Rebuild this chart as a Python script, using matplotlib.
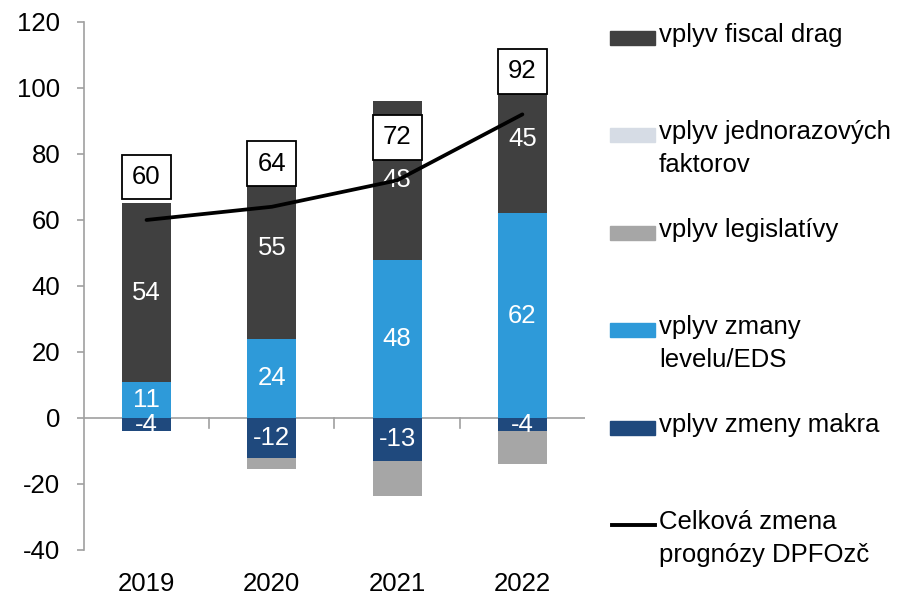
import matplotlib
matplotlib.use("Agg")
import matplotlib.pyplot as plt
from matplotlib.patches import Rectangle
from matplotlib.lines import Line2D
import numpy as np

plt.rcParams['font.family'] = ['Liberation Sans', 'DejaVu Sans']
plt.rcParams['axes.unicode_minus'] = False

#==================================================================================================================
# data

years = ["2019", "2020", "2021", "2022"]
fiscal_drag = [54, 55, 48, 45]
jednorazove = [0, 0, 0, 0]
legislativa = [0, -3.4, -10.7, -10]
level_eds = [11, 24, 48, 62]
makro = [-4, -12, -13, -4]
celkova_zmena = [60, 64, 72, 92]

labels = ["vplyv fiscal drag", "vplyv jednorazových\nfaktorov", "vplyv legislatívy",
          "vplyv zmany\nlevelu/EDS", "vplyv zmeny makra", "Celková zmena\nprognózy DPFOzč"]
colors = ["#404040", "#d6dce5", "#a6a6a6", "#2e9ad9", "#1f497d", "black"]

FS = 18.5

#==================================================================================================================

fig = plt.figure(figsize=(9.02, 6.02), dpi=100)
ax = fig.add_axes([0.093, 0.0864, 0.5556, 0.8771])

x = np.arange(len(years))
w = 0.39

# negative parts stack downward, positive upward
ax.bar(x, makro, w, color=colors[4])
ax.bar(x, legislativa, w, bottom=makro, color=colors[2])
ax.bar(x, level_eds, w, color=colors[3])
fd_bottom = np.array(level_eds) + np.array(jednorazove)
ax.bar(x, jednorazove, w, bottom=level_eds, color=colors[1])
ax.bar(x, fiscal_drag, w, bottom=fd_bottom, color=colors[0])

# value labels inside segments
for i in range(len(years)):
    ax.text(x[i], makro[i] / 2, f"{makro[i]:g}", color="white", ha="center", va="center", fontsize=FS)
    ax.text(x[i], level_eds[i] / 2, f"{level_eds[i]:g}", color="white", ha="center", va="center", fontsize=FS)
    ax.text(x[i], fd_bottom[i] + fiscal_drag[i] / 2, f"{fiscal_drag[i]:g}", color="white",
            ha="center", va="center", fontsize=FS)

ax.plot(x, celkova_zmena, color="black", lw=2.7, solid_capstyle="round", zorder=5)
for i, v in enumerate(celkova_zmena):
    ax.annotate(f"{v}", (x[i], v), xytext=(0, 31), textcoords="offset points", ha="center", va="center",
                fontsize=FS, zorder=6,
                bbox=dict(boxstyle="square,pad=0.4", fc="white", ec="black", lw=1.3))

ax.axhline(0, color="#a0a0a0", lw=1.2, zorder=0)
for b in [0.5, 1.5, 2.5]:
    ax.plot([b, b], [0, -3], color="#a0a0a0", lw=1.2, zorder=0)

ax.set_xlim(-0.5, 3.5)
ax.set_ylim(-40, 120)
ax.set_yticks(range(-40, 121, 20))
ax.set_xticks(x)
ax.set_xticklabels(years)
ax.tick_params(axis="x", length=0, pad=16, labelsize=FS)
ax.tick_params(axis="y", length=5, color="#a0a0a0", width=1.2, labelsize=FS, pad=12)
for s in ["top", "right", "bottom"]:
    ax.spines[s].set_visible(False)
ax.spines["left"].set_color("#a0a0a0")
ax.spines["left"].set_linewidth(1.2)

# legend on the right, handles aligned with first line of text
W, H = 902, 602
for i, (lab, col) in enumerate(zip(labels, colors)):
    ytop = 38 + 97.4 * i
    if i < 5:
        fig.add_artist(Rectangle((610 / W, 1 - (ytop + 7) / H), 45 / W, 14 / H,
                                 transform=fig.transFigure, color=col))
    else:
        fig.add_artist(Line2D([612 / W, 655 / W], [1 - ytop / H, 1 - ytop / H],
                              transform=fig.transFigure, color=col, lw=2.8))
    fig.text(659 / W, 1 - (ytop - 15) / H, lab, ha="left", va="top", fontsize=FS,
             linespacing=1.45)

fig.savefig("out.png", dpi=100)
